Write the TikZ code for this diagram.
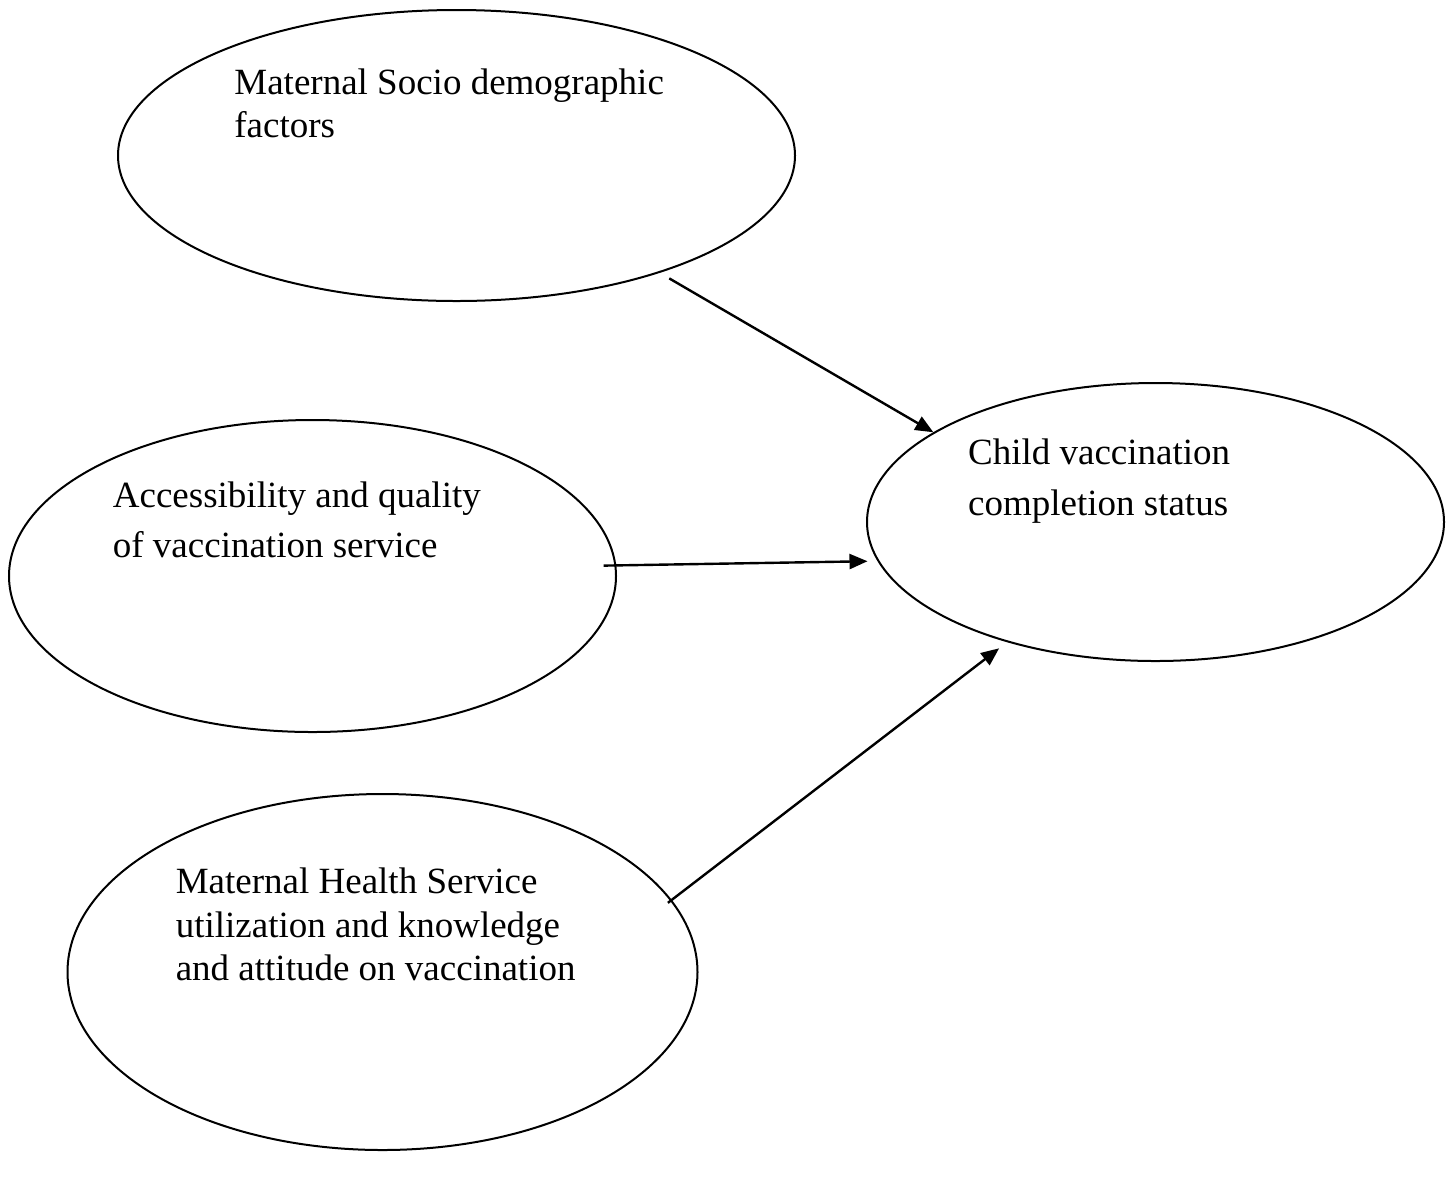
\documentclass[tikz,border=0pt]{standalone}
\usepackage{fontspec}
\setmainfont{Liberation Serif}
\usetikzlibrary{shapes.geometric,arrows.meta}

\begin{document}
\begin{tikzpicture}[x=0.5pt, y=-0.5pt,
    bubble/.style={draw, ellipse, line width=1pt, inner sep=0pt},
    bubbletext/.style={anchor=north west, inner sep=0pt, align=left, font=\fontsize{18.5}{#1}\selectfont},
    arc/.style={draw, line width=1.2pt, -{Triangle[length=9pt,width=7.5pt]}}
    ]
    \useasboundingbox (0,0) rectangle (1455,1190);

    % Define ellipses
    \foreach \name/\pos/\bubblew/\bubbleh in {socio/{(456.5,155.5)}/338.5/145.5,
                                              access/{(312.5,576)}/303.5/156,
                                              health/{(382.5,972)}/315/178,
                                              child/{(1155.5,522)}/288.5/139} {
        \node[bubble, at=\pos, minimum width=\bubblew pt, minimum height=\bubbleh pt, name=\name] {};
    }

    % Texts
    \node[bubbletext=21.5pt, at={(234,68.7)}, name=socioText]
        {Maternal Socio demographic\\factors};
    \node[bubbletext=25pt, at={(112.5,481.7)}, name=accessText]
        {Accessibility and quality\\of vaccination service};
    \node[bubbletext=21.75pt, at={(175.4,867.7)}, name=healthText]
        {Maternal Health Service\\utilization and knowledge\\and attitude on vaccination};
    \node[bubbletext=25.5pt, at={(967.7,438.7)}, name=childText]
        {Child vaccination\\completion status};

    % Define arrows
    \draw[arc, shorten <=5.5pt] (socio.-30.2) -- (child.158);
    \draw[arc, shorten <=-6.3pt, shorten >=5pt] (access.2.9) -- (child.188.3);
    \draw[arc, shorten <=-2.4pt, shorten >=5pt] (health.14.75) -- (child.219.9);
\end{tikzpicture}
\end{document}
